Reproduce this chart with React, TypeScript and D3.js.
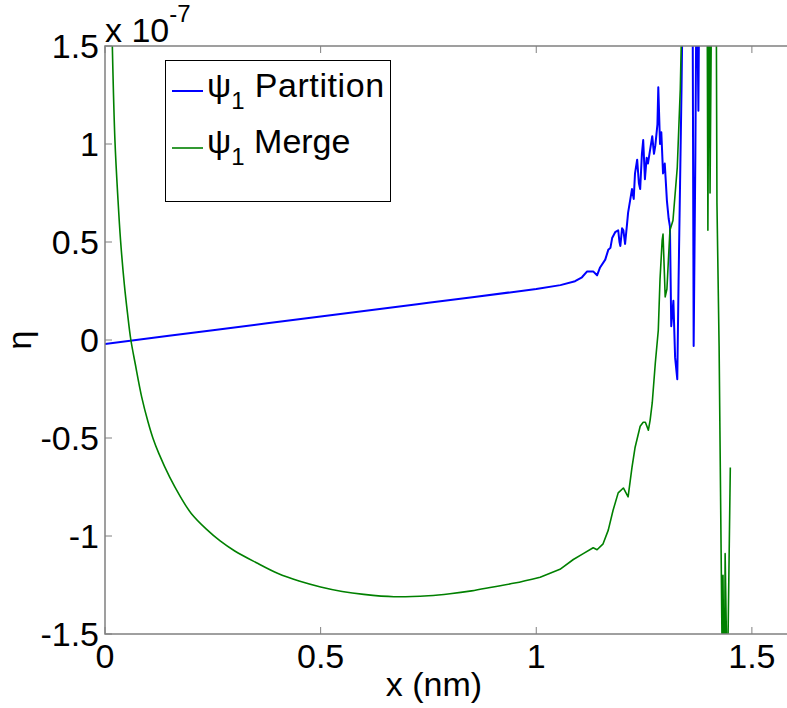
import React from "react";
import * as d3 from "d3";

// ---- data (x in nm, eta in units of 1e-7) ----
const partitionX = [0, 0.25, 0.5, 0.75, 1.0, 1.056, 1.09, 1.106, 1.118, 1.132, 1.141, 1.148, 1.16, 1.167, 1.172, 1.176, 1.183, 1.19, 1.193, 1.195, 1.199, 1.202, 1.206, 1.21, 1.213, 1.222, 1.226, 1.229, 1.234, 1.238, 1.241, 1.245, 1.248, 1.252, 1.256, 1.259, 1.264, 1.269, 1.273, 1.276, 1.281, 1.283, 1.287, 1.29, 1.294, 1.298, 1.303, 1.307, 1.31, 1.313, 1.318, 1.322, 1.327, 1.33, 1.337, 1.341, 1.35, 1.357, 1.362, 1.365, 1.369, 1.372, 1.376, 1.38, 1.39, 1.45];
const partitionY = [-0.02, 0.05, 0.12, 0.19, 0.26, 0.28, 0.3, 0.32, 0.35, 0.35, 0.33, 0.37, 0.41, 0.46, 0.47, 0.52, 0.55, 0.56, 0.5, 0.48, 0.57, 0.56, 0.49, 0.58, 0.65, 0.77, 0.72, 0.85, 0.92, 0.8, 0.77, 0.95, 1.02, 0.82, 0.93, 0.9, 0.97, 1.04, 0.95, 0.99, 1.1, 1.29, 1.0, 1.06, 0.85, 0.9, 0.71, 0.62, 0.58, 0.07, 0.2, -0.09, -0.2, 0.3, 1.3, 2.0, 2.5, 1.8, 2.2, -0.03, 0.95, 2.0, 1.17, 2.5, 3.0, 3.2];

const mergeX = [0.008, 0.017, 0.023, 0.03, 0.036, 0.045, 0.052, 0.06, 0.07, 0.085, 0.1, 0.111, 0.125, 0.15, 0.175, 0.2, 0.235, 0.267, 0.3, 0.35, 0.4, 0.45, 0.5, 0.55, 0.6, 0.67, 0.75, 0.8, 0.85, 0.9, 0.95, 1.009, 1.055, 1.086, 1.109, 1.132, 1.141, 1.155, 1.167, 1.178, 1.19, 1.202, 1.213, 1.222, 1.229, 1.241, 1.248, 1.253, 1.26, 1.264, 1.269, 1.276, 1.283, 1.287, 1.292, 1.294, 1.299, 1.303, 1.31, 1.317, 1.327, 1.334, 1.341, 1.357, 1.38, 1.396, 1.398, 1.401, 1.403, 1.408, 1.417, 1.419, 1.424, 1.431, 1.433, 1.436, 1.438, 1.443, 1.45];
const mergeY = [2.6, 1.5, 1.02, 0.72, 0.51, 0.28, 0.14, 0.0, -0.12, -0.29, -0.42, -0.5, -0.58, -0.7, -0.8, -0.885, -0.965, -1.025, -1.075, -1.135, -1.19, -1.23, -1.26, -1.283, -1.298, -1.31, -1.305, -1.295, -1.28, -1.26, -1.24, -1.21, -1.17, -1.12, -1.09, -1.06, -1.07, -1.04, -0.97, -0.87, -0.78, -0.755, -0.8, -0.65, -0.55, -0.44, -0.42, -0.42, -0.46, -0.41, -0.32, -0.12, 0.05, 0.31, 0.51, 0.54, 0.22, 0.26, 0.56, 0.61, 0.88, 1.28, 2.0, 2.5, 2.8, 2.0, 0.56, 2.0, 0.75, 2.2, 2.0, 0.7, -0.03, -1.6, -1.2, -2.0, -1.09, -1.8, -0.65];

const xTicks = [0, 0.5, 1, 1.5];
const xTickLabels = ["0", "0.5", "1", "1.5"];
const yTicks = [-1.5, -1, -0.5, 0, 0.5, 1, 1.5];
const yTickLabels = ["-1.5", "-1", "-0.5", "0", "0.5", "1", "1.5"];

const W = 787;
const H = 708;
const M = { left: 105, top: 46, right: 795, bottom: 634 };
const FONT = "'Liberation Sans', Arial, Helvetica, sans-serif";
const FS = 34;
const AXIS = "#808080";
const SMOOTH_END = 1.009;

export default function App() {
  const x = d3.scaleLinear().domain([0, 1.6]).range([M.left, M.right]);
  const y = d3.scaleLinear().domain([-1.5, 1.5]).range([M.bottom, M.top]);

  // path from arrays; smooth part for x <= SMOOTH_END, then jagged linear part
  const mk = (xs: number[], ys: number[]) => {
    const idx = d3.range(xs.length);
    const a = idx.filter((i) => xs[i] <= SMOOTH_END);
    const b = idx.filter((i) => xs[i] >= xs[a[a.length - 1]]);
    const smooth = d3
      .line<number>()
      .x((i) => x(xs[i]))
      .y((i) => y(ys[i]))
      .curve(d3.curveCatmullRom.alpha(0.5))(a) || "";
    const rough = d3
      .line<number>()
      .x((i) => x(xs[i]))
      .y((i) => y(ys[i]))
      .curve(d3.curveLinear)(b) || "";
    return smooth + rough.replace(/^M/, "L");
  };
  const tl = 7;
  return (
    <div style={{ position: "fixed", left: 0, top: 0 }}>
      <svg width={W} height={H} style={{ display: "block", background: "#fff" }} fontFamily={FONT}>
        <defs>
          <clipPath id="plot">
            <rect x={M.left} y={M.top} width={M.right - M.left} height={M.bottom - M.top} />
          </clipPath>
        </defs>
        <rect x={0} y={0} width={W} height={H} fill="#fff" />
        <g clipPath="url(#plot)" fill="none">
          <path d={mk(partitionX, partitionY)} stroke="#0000ff" strokeWidth={2} strokeLinejoin="round" />
          <path d={mk(mergeX, mergeY)} stroke="#008000" strokeWidth={1.6} strokeLinejoin="round" />
        </g>
        {/* box */}
        <rect x={M.left} y={M.top} width={M.right - M.left} height={M.bottom - M.top} fill="none" stroke={AXIS} strokeWidth={1.5} />
        {/* ticks */}
        {xTicks.map((t, i) => (
          <g key={"x" + i}>
            <line x1={x(t)} x2={x(t)} y1={M.bottom} y2={M.bottom - tl} stroke={AXIS} strokeWidth={1} />
            <line x1={x(t)} x2={x(t)} y1={M.top} y2={M.top + tl} stroke={AXIS} strokeWidth={1} />
            <text x={x(t)} y={M.bottom + 34} fontSize={FS} textAnchor="middle" fill="#000">
              {xTickLabels[i]}
            </text>
          </g>
        ))}
        {yTicks.map((t, i) => (
          <g key={"y" + i}>
            <line x1={M.left} x2={M.left + tl} y1={y(t)} y2={y(t)} stroke={AXIS} strokeWidth={1} />
            <text x={M.left - 6} y={y(t)} dy="0.36em" fontSize={FS} textAnchor="end" fill="#000">
              {yTickLabels[i]}
            </text>
          </g>
        ))}
        {/* exponent */}
        <text x={M.left} y={42} fontSize={FS} fill="#000">
          x 10
          <tspan dy={-20} fontSize={24}>-7</tspan>
        </text>
        {/* axis labels */}
        <text x={434} y={696} fontSize={FS} textAnchor="middle" fill="#000">
          x (nm)
        </text>
        <text transform="translate(31,340) rotate(-90)" fontSize={FS} textAnchor="middle" fill="#000">
          η
        </text>
        {/* legend */}
        <rect x={165.5} y={60.5} width={225} height={141} fill="#fff" stroke="#000" strokeWidth={1} />
        <line x1={172} x2={203} y1={91} y2={91} stroke="#0000ff" strokeWidth={2} />
        <line x1={172} x2={203} y1={148} y2={148} stroke="#008000" strokeWidth={1.6} />
        <text x={207} y={97} fontSize={FS} fill="#000">
          ψ<tspan dy={12} fontSize={24}>1</tspan>
          <tspan dy={-12} letterSpacing={0.6}> Partition</tspan>
        </text>
        <text x={207} y={153} fontSize={FS} fill="#000">
          ψ<tspan dy={12} fontSize={24}>1</tspan>
          <tspan dy={-12}> Merge</tspan>
        </text>
      </svg>
    </div>
  );
}
